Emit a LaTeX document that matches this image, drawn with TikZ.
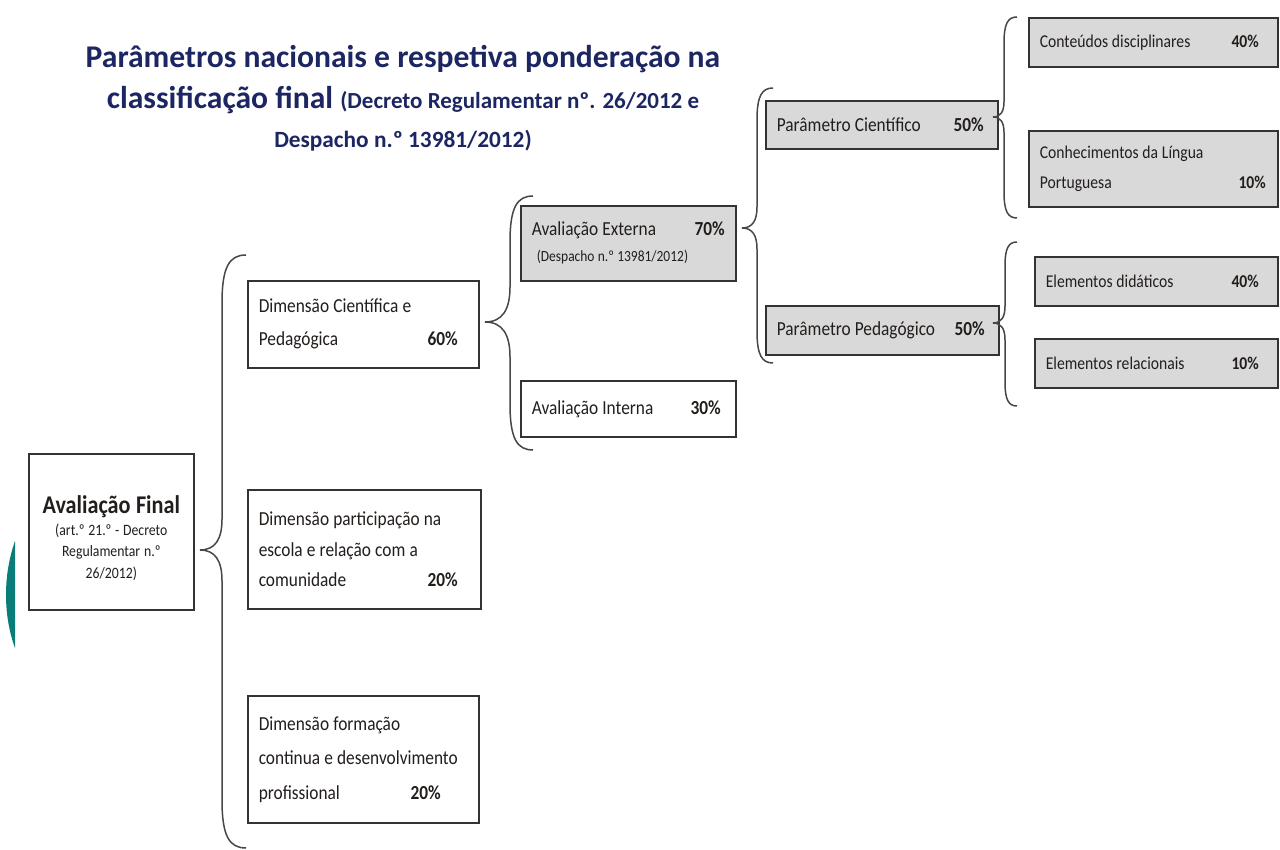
\documentclass[tikz,border=0pt]{standalone}
\usepackage{fontspec}
\setmainfont{Carlito}
\newfontfamily\boxfont[FakeStretch=0.87]{Carlito}
\newcommand\bxf[2]{\boxfont\fontsize{#1}{#2}\selectfont}
\newcommand\tightsp{\spaceskip=0.21em plus 0.05em minus 0.03em\relax}
\definecolor{navy}{RGB}{28,38,98}
\definecolor{boxgray}{RGB}{217,217,217}
\definecolor{ink}{RGB}{34,30,28}
\definecolor{myteal}{RGB}{10,125,120}
\tikzset{
  box/.style={draw=black!80, line width=1.6pt, fill=white, anchor=north west,
    inner xsep=11pt, inner ysep=0pt, align=left, text=ink,
    font=\bxf{18}{32}, execute at begin node=\tightsp},
  gbox/.style={box, fill=boxgray},
  midfont/.style={font=\bxf{19.9}{#1}},
  brace/.style={draw=black!72, line width=1.5pt},
  ttl/.style={anchor=base, text=navy, inner sep=0pt},
}
\newcommand\bracepath[6]{% tipx tipy vx top bottom endx
  \draw[brace] (#6,#4) .. controls ({#3+0.3*(#6-#3)},#4) and (#3,{#4+0.5*(#6-#3)}) .. (#3,{#4+2*(#6-#3)})
   -- (#3,{#2-1.4*(#3-#1)}) .. controls (#3,{#2-0.5*(#3-#1)}) and ({#3-0.3*(#3-#1)},#2) .. (#1,#2)
   .. controls ({#3-0.3*(#3-#1)},#2) and (#3,{#2+0.5*(#3-#1)}) .. (#3,{#2+1.4*(#3-#1)})
   -- (#3,{#5-2*(#6-#3)}) .. controls (#3,{#5-0.5*(#6-#3)}) and ({#3+0.3*(#6-#3)},#5) .. (#6,#5);}
\begin{document}
\begin{tikzpicture}[x=1pt,y=-1pt]
\useasboundingbox (0,0) rectangle (1280,850);
\fill[white] (0,0) rectangle (1280,850);
% teal fragment at left edge
\fill[myteal] (15,541) .. controls (3,575) and (3,615) .. (15,648) -- cycle;

% title
\node[ttl] (t1) at (403,68) {\fontsize{31.6}{31}\selectfont\bfseries Parâmetros nacionais e respetiva ponderação na};
\node[ttl] (t2) at (403,109) {\fontsize{31.6}{31}\selectfont\bfseries classificação final {\fontsize{23}{22.5}\selectfont (Decreto Regulamentar nº. 26/2012 e}};
\node[ttl] (t3) at (403,148) {\fontsize{23.3}{23}\selectfont\bfseries Despacho n.º 13981/2012)};

% boxes
\node[box, text width=143pt, minimum height=156pt, align=center,
      font=\bxf{15.8}{21.5}] (af) at (28,453)
  {\rule{0pt}{31pt}{\fontsize{25.5}{22}\selectfont\tightsp\bfseries Avaliação Final}\\
   (art.º 21.º - Decreto\\ Regulamentar n.º\\ 26/2012)};
\node[box, midfont=33, text width=209pt, minimum height=87pt] (d1) at (247,280)
  {Dimensão Científica e\\ Pedagógica\hfill\textbf{60\%}\hspace*{10pt}};
\node[box, midfont=30.5, text width=211pt, minimum height=119pt] (d2) at (247,489)
  {Dimensão participação na\\ escola e relação com a\\ comunidade\hfill\textbf{20\%}\hspace*{12pt}};
\node[box, midfont=34.5, text width=209pt, minimum height=127pt] (d3) at (247,695)
  {Dimensão formação\\ continua e desenvolvimento\\ profissional\hfill\textbf{20\%}\hspace*{27pt}};
\node[gbox, midfont=26, text width=193pt, minimum height=75pt] (ae) at (520,205)
  {Avaliação Externa\hfill\textbf{70\%}\hspace*{4pt}\\
   \hspace*{5pt}{\bxf{15.5}{15}\tightsp(Despacho n.º 13981/2012)}};
\node[box, midfont=26, text width=193pt, minimum height=56pt] (ai) at (520,380)
  {Avaliação Interna\hfill\textbf{30\%}\hspace*{4pt}};
\node[gbox, midfont=26, text width=210pt, minimum height=48pt] (pc) at (765,100)
  {Parâmetro Científico\hfill\textbf{50\%}\hspace*{3pt}};
\node[gbox, midfont=26, text width=211pt, minimum height=49pt] (pp) at (765,305)
  {Parâmetro Pedagógico\hfill\textbf{50\%}\hspace*{3pt}};
\node[gbox, text width=227pt, minimum height=49pt] (cd) at (1028,17)
  {Conteúdos disciplinares\hfill\textbf{40\%}\hspace*{8pt}};
\node[gbox, font=\bxf{18}{31}, text width=227pt, minimum height=76pt] (clp) at (1028,130)
  {Conhecimentos da Língua\\ Portuguesa\hfill\textbf{10\%}\hspace*{1pt}};
\node[gbox, text width=221pt, minimum height=49pt] (ed) at (1034,256)
  {Elementos didáticos\hfill\textbf{40\%}\hspace*{8pt}};
\node[gbox, text width=221pt, minimum height=49pt] (er) at (1034,338)
  {Elementos relacionais\hfill\textbf{10\%}\hspace*{8pt}};

% brace tips
\coordinate (b1) at (200,550);
\coordinate (b2) at (485,322);
\coordinate (b3) at (742,228);
\coordinate (b4) at (993,117);
\coordinate (b5) at (993,323);
\bracepath{200}{550}{222}{255}{848}{246}
\bracepath{485}{322}{510}{196}{450}{533}
\bracepath{742}{228}{757}{88}{363}{773}
\bracepath{993}{117}{1004}{17}{218}{1017}
\bracepath{993}{323}{1005}{242}{406}{1017}
\end{tikzpicture}
\end{document}
